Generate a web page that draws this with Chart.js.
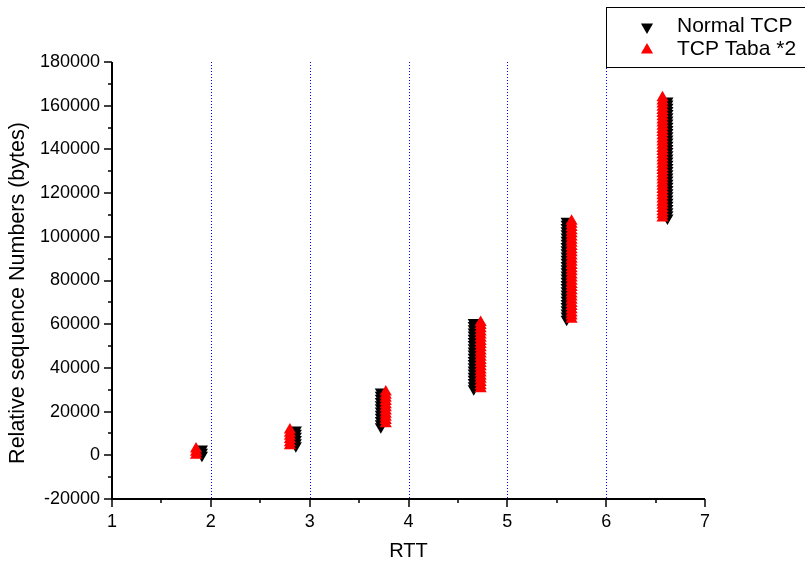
<!DOCTYPE html>
<html>
<head>
<meta charset="utf-8">
<title>RTT vs relative sequence numbers</title>
<script src="https://cdn.jsdelivr.net/npm/chart.js@4/dist/chart.umd.min.js"></script>
<style>
  html, body { margin: 0; padding: 0; background: #ffffff; }
  #wrap { width: 805px; height: 569px; }
</style>
</head>
<body>
<div id="wrap"><canvas id="chart" width="805" height="569"></canvas></div>
<script>
// RTT position of each burst of segments
const normalRtt = [1.91, 2.86, 3.72, 4.66, 5.60, 6.62];
const tabaRtt   = [1.85, 2.80, 3.77, 4.73, 5.65, 6.57];

// Relative sequence numbers (bytes) sent during each RTT, Normal TCP
const normalSeq = [
  [0, 1448, 2896],
  [4344, 5792, 7240, 8688, 10136, 11584],
  [13032, 14480, 15928, 17376, 18824, 20272, 21720, 23168, 24616, 26064, 27512, 28960],
  [30408, 31856, 33304, 34752, 36200, 37648, 39096, 40544, 41992, 43440, 44888, 46336,
   47784, 49232, 50680, 52128, 53576, 55024, 56472, 57920, 59368, 60816],
  [62264, 63712, 65160, 66608, 68056, 69504, 70952, 72400, 73848, 75296, 76744, 78192,
   79640, 81088, 82536, 83984, 85432, 86880, 88328, 89776, 91224, 92672, 94120, 95568,
   97016, 98464, 99912, 101360, 102808, 104256, 105704, 107152],
  [108600, 110048, 111496, 112944, 114392, 115840, 117288, 118736, 120184, 121632,
   123080, 124528, 125976, 127424, 128872, 130320, 131768, 133216, 134664, 136112,
   137560, 139008, 140456, 141904, 143352, 144800, 146248, 147696, 149144, 150592,
   152040, 153488, 154936, 156384, 157832, 159280, 160728, 162176]
];

// Relative sequence numbers (bytes) sent during each RTT, TCP Taba *2
const tabaSeq = [
  [0, 1448, 2896],
  [4344, 5792, 7240, 8688, 10136, 11584],
  [14480, 15928, 17376, 18824, 20272, 21720, 23168, 24616, 26064, 27512, 28960],
  [30408, 31856, 33304, 34752, 36200, 37648, 39096, 40544, 41992, 43440, 44888, 46336,
   47784, 49232, 50680, 52128, 53576, 55024, 56472, 57920, 59368, 60816],
  [62264, 63712, 65160, 66608, 68056, 69504, 70952, 72400, 73848, 75296, 76744, 78192,
   79640, 81088, 82536, 83984, 85432, 86880, 88328, 89776, 91224, 92672, 94120, 95568,
   97016, 98464, 99912, 101360, 102808, 104256, 105704, 107152],
  [108600, 110048, 111496, 112944, 114392, 115840, 117288, 118736, 120184, 121632,
   123080, 124528, 125976, 127424, 128872, 130320, 131768, 133216, 134664, 136112,
   137560, 139008, 140456, 141904, 143352, 144800, 146248, 147696, 149144, 150592,
   152040, 153488, 154936, 156384, 157832, 159280, 160728, 162176, 163624]
];

const seriesNames = ['Normal TCP', 'TCP Taba *2'];
const gridRtt = [2, 3, 4, 5, 6];
const yTitle = 'Relative sequence Numbers (bytes)';

const FONT = '"Liberation Sans", Arial, Helvetica, sans-serif';
Chart.defaults.font.family = FONT;
Chart.defaults.color = '#000';

function toPoints(rtts, seqs) {
  const pts = [];
  rtts.forEach((r, i) => seqs[i].forEach(s => pts.push({ x: r, y: s })));
  return pts;
}

// Origin-style axes: dotted vertical grid, solid left/bottom axes with major and minor ticks
const frame = {
  id: 'frame',
  beforeDatasetsDraw(chart) {
    const { ctx, chartArea: a, scales: { x } } = chart;
    ctx.save();
    ctx.strokeStyle = '#0000ff';
    ctx.lineWidth = 1;
    ctx.setLineDash([1, 2]);
    gridRtt.forEach(v => {
      const px = Math.round(x.getPixelForValue(v)) + 0.5;
      ctx.beginPath();
      ctx.moveTo(px, a.top);
      ctx.lineTo(px, a.bottom);
      ctx.stroke();
    });
    ctx.restore();
  },
  afterDatasetsDraw(chart) {
    const { ctx, chartArea: a, scales: { x, y } } = chart;
    ctx.save();
    ctx.strokeStyle = '#000';
    ctx.lineWidth = 1.5;
    // y ticks
    for (let v = y.min; v <= y.max; v += 10000) {
      const py = Math.round(y.getPixelForValue(v));
      const len = (v % 20000 === 0) ? 8 : 4;
      ctx.beginPath();
      ctx.moveTo(a.left, py);
      ctx.lineTo(a.left - len, py);
      ctx.stroke();
    }
    // x ticks
    for (let v = x.min; v <= x.max + 1e-9; v += 0.5) {
      const px = Math.round(x.getPixelForValue(v));
      const len = (Math.abs(v - Math.round(v)) < 1e-9) ? 8 : 4;
      ctx.beginPath();
      ctx.moveTo(px, a.bottom);
      ctx.lineTo(px, a.bottom + len);
      ctx.stroke();
    }
    // axis lines
    ctx.lineWidth = 2;
    ctx.beginPath();
    ctx.moveTo(a.left, a.top);
    ctx.lineTo(a.left, a.bottom);
    ctx.lineTo(a.right, a.bottom);
    ctx.stroke();

    // y axis title
    ctx.save();
    ctx.translate(18, 293);
    ctx.rotate(-Math.PI / 2);
    ctx.fillStyle = '#000';
    ctx.font = '21.5px ' + FONT;
    ctx.textAlign = 'center';
    ctx.textBaseline = 'middle';
    ctx.fillText(yTitle, 0, 0);
    ctx.restore();

    // legend box
    ctx.lineWidth = 1;
    ctx.strokeRect(606.5, 7.5, 260, 60);
    const rows = [27, 50];
    chart.data.datasets.forEach((ds, i) => {
      ctx.fillStyle = ds.pointBackgroundColor;
      Chart.helpers.drawPoint(ctx, {
        pointStyle: 'triangle', radius: 7, rotation: ds.pointRotation, borderWidth: 0
      }, 647, rows[i]);
      ctx.fillStyle = '#000';
      ctx.font = '21px ' + FONT;
      ctx.textAlign = 'left';
      ctx.textBaseline = 'middle';
      ctx.fillText(ds.label, 677, rows[i] - 1);
    });
    ctx.restore();
  }
};

new Chart(document.getElementById('chart'), {
  type: 'scatter',
  data: {
    datasets: [
      {
        label: seriesNames[0],
        data: toPoints(normalRtt, normalSeq),
        pointStyle: 'triangle',
        pointRotation: 180,
        pointRadius: 7,
        pointBorderWidth: 0,
        pointBackgroundColor: '#000000',
        borderColor: '#000000',
        order: 1
      },
      {
        label: seriesNames[1],
        data: toPoints(tabaRtt, tabaSeq),
        pointStyle: 'triangle',
        pointRotation: 0,
        pointRadius: 7,
        pointBorderWidth: 0,
        pointBackgroundColor: '#ff0000',
        borderColor: '#ff0000',
        order: 0
      }
    ]
  },
  options: {
    responsive: false,
    animation: false,
    devicePixelRatio: 1,
    layout: { padding: { top: 62, right: 100, left: 0, bottom: 0 } },
    plugins: { legend: { display: false }, tooltip: { enabled: false } },
    scales: {
      x: {
        type: 'linear',
        min: 1, max: 7,
        ticks: {
          stepSize: 1, padding: 12, color: '#000',
          font: { size: 18 },
          callback: v => String(v)
        },
        grid: { display: false, drawTicks: false },
        border: { display: false },
        title: {
          display: true, text: 'RTT', color: '#000',
          font: { size: 20 }, padding: { top: 0, bottom: 6 }
        },
        afterFit(s) { s.height = 70; }
      },
      y: {
        type: 'linear',
        min: -20000, max: 180000,
        ticks: {
          stepSize: 20000, padding: 12, color: '#000',
          font: { size: 18 },
          callback: v => String(v)
        },
        grid: { display: false, drawTicks: false },
        border: { display: false },
        title: { display: false },
        afterFit(s) { s.width = 112; }
      }
    }
  },
  plugins: [frame]
});
</script>
</body>
</html>
